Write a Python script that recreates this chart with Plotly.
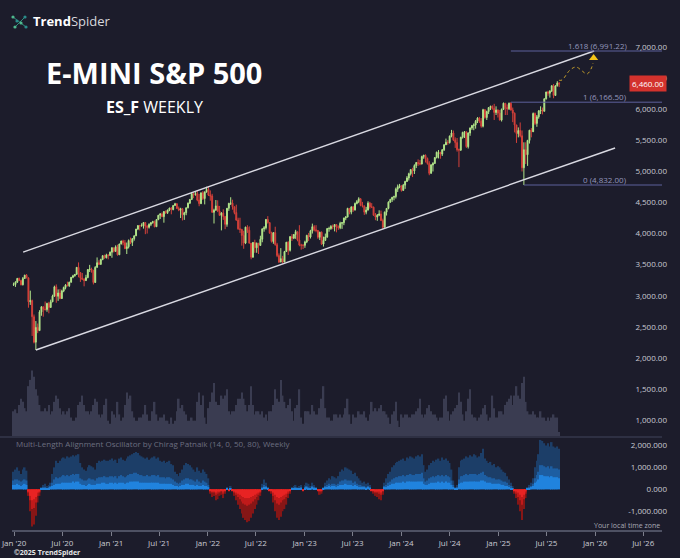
import pandas as pd
import plotly.graph_objects as go

# ES_F weekly bars, one per week starting Mon 2019-12-30 up to Mon 2025-08-18
first_open = 3225

close_2020 = [3230, 3265, 3328, 3292, 3224, 3326, 3380, 3336, 2951, 2969, 2710, 2300, 2538, 2486, 2787, 2869, 2831, 2825,
              2924, 2859, 2950, 3042, 3191, 3039, 3092, 3003, 3125, 3180, 3220, 3210, 3265, 3345, 3368, 3392, 3505, 3422,
              3335, 3313, 3292, 3340, 3470, 3478, 3458, 3262, 3505, 3580, 3553, 3632, 3693, 3660, 3705, 3698, 3750]
high_2020 = [3260, 3282, 3330, 3340, 3305, 3350, 3385, 3397, 3345, 3130, 2985, 2745, 2640, 2600, 2815, 2880, 2875, 2955,
             2935, 2950, 2985, 3065, 3210, 3230, 3150, 3155, 3145, 3195, 3235, 3275, 3275, 3350, 3385, 3398, 3510, 3585,
             3425, 3415, 3330, 3385, 3475, 3545, 3500, 3465, 3525, 3665, 3620, 3645, 3700, 3710, 3725, 3715, 3760]
low_2020 = [3205, 3190, 3255, 3285, 3215, 3214, 3320, 3330, 2855, 2900, 2400, 2280, 2174, 2445, 2480, 2725, 2710, 2810,
            2790, 2765, 2855, 2945, 3030, 2935, 2965, 2990, 2995, 3105, 3150, 3200, 3190, 3260, 3330, 3355, 3390, 3345,
            3270, 3300, 3200, 3285, 3330, 3430, 3420, 3230, 3255, 3500, 3545, 3550, 3620, 3645, 3650, 3635, 3690]

close_2021 = [3820, 3763, 3836, 3708, 3882, 3930, 3903, 3806, 3837, 3937, 3907, 3968, 4013, 4122, 4178, 4174, 4175, 4227,
              4167, 4150, 4198, 4224, 4242, 4160, 4275, 4345, 4365, 4322, 4405, 4388, 4430, 4462, 4436, 4503, 4530, 4453,
              4427, 4450, 4352, 4385, 4465, 4540, 4600, 4692, 4678, 4693, 4590, 4532, 4706, 4614, 4719, 4760]
high_2021 = [3830, 3820, 3860, 3870, 3885, 3935, 3950, 3945, 3905, 3955, 3985, 3975, 4020, 4125, 4185, 4190, 4215, 4235,
             4235, 4185, 4215, 4235, 4255, 4260, 4280, 4350, 4380, 4390, 4410, 4425, 4435, 4465, 4475, 4505, 4545, 4540,
             4485, 4465, 4460, 4400, 4470, 4550, 4605, 4715, 4715, 4720, 4750, 4690, 4710, 4735, 4730, 4805]
low_2021 = [3660, 3745, 3755, 3695, 3705, 3875, 3860, 3805, 3720, 3810, 3880, 3850, 3935, 4010, 4105, 4100, 4165, 4130,
            4040, 4050, 4130, 4170, 4210, 4150, 4160, 4265, 4285, 4315, 4225, 4365, 4365, 4410, 4360, 4425, 4495, 4450,
            4410, 4300, 4260, 4270, 4345, 4455, 4525, 4590, 4620, 4660, 4570, 4490, 4525, 4590, 4520, 4710]

close_2022 = [4671, 4656, 4392, 4426, 4495, 4413, 4343, 4380, 4324, 4199, 4457, 4537, 4540, 4482, 4388, 4267, 4126, 4117,
              4018, 3896, 4153, 4104, 3895, 3670, 3906, 3820, 3894, 3858, 3958, 4125, 4142, 4277, 4226, 4056, 3922, 4065,
              3871, 3695, 3590, 3645, 3590, 3760, 3910, 3780, 4000, 3975, 4035, 4080, 3945, 3865, 3860, 3860]
high_2022 = [4808, 4745, 4690, 4450, 4590, 4585, 4495, 4395, 4440, 4335, 4460, 4545, 4635, 4595, 4475, 4515, 4305, 4305,
             4125, 4095, 4160, 4185, 4165, 3885, 3915, 3950, 3905, 3890, 4015, 4135, 4170, 4285, 4330, 4220, 4080, 4070,
             4160, 3900, 3730, 3815, 3690, 3770, 3915, 3925, 4010, 4040, 4040, 4110, 4080, 4185, 3885, 3880]
low_2022 = [4655, 4580, 4385, 4212, 4420, 4395, 4335, 4101, 4270, 4120, 4160, 4415, 4510, 4435, 4360, 4255, 4110, 4060,
            3855, 3805, 3880, 4060, 3890, 3635, 3660, 3740, 3740, 3720, 3855, 3910, 4080, 4115, 4210, 4050, 3905, 3885,
            3855, 3670, 3575, 3590, 3565, 3590, 3765, 3705, 3760, 3930, 3960, 3965, 3925, 3845, 3790, 3800]

close_2023 = [3915, 4020, 3995, 4095, 4160, 4110, 4100, 3990, 4070, 3880, 3940, 3995, 4130, 4130, 4165, 4160, 4195, 4160,
              4145, 4215, 4225, 4300, 4315, 4455, 4395, 4480, 4430, 4535, 4565, 4610, 4505, 4490, 4395, 4430, 4540, 4480,
              4475, 4345, 4315, 4345, 4365, 4260, 4150, 4395, 4455, 4555, 4600, 4635, 4645, 4765, 4805, 4820]
high_2023 = [3935, 4030, 4060, 4110, 4210, 4185, 4185, 4090, 4080, 4085, 4000, 4050, 4140, 4160, 4185, 4195, 4200, 4195,
             4180, 4240, 4235, 4305, 4330, 4465, 4450, 4485, 4490, 4550, 4590, 4635, 4620, 4560, 4505, 4480, 4570, 4560,
             4540, 4485, 4380, 4365, 4425, 4420, 4290, 4405, 4460, 4570, 4610, 4640, 4660, 4790, 4840, 4850]
low_2023 = [3820, 3895, 3930, 3970, 4050, 4085, 4070, 3965, 3945, 3865, 3840, 3930, 3980, 4080, 4110, 4120, 4085, 4070,
            4110, 4120, 4125, 4185, 4265, 4310, 4360, 4360, 4400, 4420, 4520, 4540, 4490, 4470, 4350, 4360, 4420, 4450,
            4460, 4335, 4265, 4255, 4330, 4250, 4122, 4150, 4340, 4440, 4545, 4560, 4585, 4615, 4720, 4780]

close_2024 = [4745, 4830, 4890, 4945, 5015, 5080, 5060, 5145, 5195, 5180, 5170, 5290, 5310, 5260, 5180, 5020, 5155, 5180,
              5275, 5360, 5360, 5330, 5400, 5480, 5520, 5515, 5620, 5670, 5560, 5515, 5400, 5395, 5600, 5680, 5690, 5450,
              5670, 5750, 5790, 5800, 5860, 5910, 5860, 5780, 6045, 5920, 6015, 6080, 6100, 6065, 6000, 6040]
high_2024 = [4815, 4850, 4900, 4975, 5030, 5085, 5110, 5165, 5200, 5245, 5235, 5305, 5320, 5325, 5275, 5215, 5170, 5200,
             5280, 5370, 5395, 5360, 5410, 5490, 5580, 5555, 5630, 5720, 5710, 5600, 5590, 5420, 5610, 5690, 5700, 5690,
             5680, 5760, 5800, 5825, 5880, 5925, 5930, 5910, 6060, 6055, 6030, 6085, 6110, 6115, 6140, 6100]
low_2024 = [4725, 4740, 4770, 4880, 4905, 4985, 4960, 5010, 5105, 5140, 5150, 5165, 5255, 5195, 5160, 4990, 5015, 5050,
            5170, 5260, 5260, 5255, 5300, 5380, 5490, 5480, 5500, 5600, 5540, 5430, 5370, 5120, 5380, 5580, 5590, 5430,
            5420, 5625, 5720, 5715, 5740, 5830, 5830, 5755, 5760, 5900, 5880, 5975, 6040, 6045, 5880, 5960]

close_2025 = [5990, 5880, 6050, 6150, 6080, 6060, 6150, 6040, 5990, 5800, 5660, 5710, 5625, 5110, 5400, 5320, 5550, 5715,
              5690, 5985, 5825, 5930, 6025, 6040, 6020, 6220, 6330, 6310, 6345, 6430, 6275, 6430, 6475, 6460]
high_2025 = [6050, 6040, 6065, 6160, 6150, 6130, 6160, 6166.5, 6080, 6000, 5800, 5760, 5840, 5710, 5520, 5520, 5560, 5720,
             5750, 6000, 6000, 5960, 6040, 6100, 6080, 6230, 6335, 6350, 6360, 6440, 6460, 6440, 6505, 6490]
low_2025 = [5920, 5870, 5855, 6040, 5960, 5960, 6040, 6030, 5845, 5680, 5510, 5600, 5600, 5050, 4832, 5170, 5140, 5500,
            5600, 5830, 5800, 5770, 5900, 5975, 5970, 6030, 6210, 6270, 6240, 6330, 6230, 6270, 6420, 6410]

# weekly volume (thousands)
vol_2020 = [1150, 1180, 1120, 1250, 1350, 1300, 1200, 1150, 1550, 1650, 1800, 1700, 1500, 1400, 1250, 1150, 1150, 1200,
            1150, 1250, 1100, 1150, 1300, 1400, 1350, 1200, 1100, 1150, 1100, 1150, 1200, 1050, 1000, 1000, 1050, 1250,
            1300, 1400, 1250, 1150, 1150, 1100, 1150, 1250, 1350, 1300, 1100, 1050, 1100, 1250, 1350, 1000, 950]
vol_2021 = [1150, 1100, 1050, 1300, 1100, 1000, 1050, 1250, 1450, 1350, 1400, 1150, 1050, 1000, 1000, 1050, 1050, 1100,
            1250, 1100, 1000, 1000, 1150, 1300, 1100, 1000, 1050, 1050, 1100, 1000, 1000, 950, 1050, 950, 1000, 1150,
            1350, 1200, 1250, 1150, 1100, 1000, 1000, 1050, 1000, 1000, 1300, 1450, 1250, 1400, 1050, 950]
vol_2022 = [1200, 1300, 1450, 1600, 1300, 1250, 1250, 1400, 1350, 1400, 1500, 1150, 1100, 1150, 1150, 1250, 1350, 1350,
            1450, 1350, 1250, 1150, 1250, 1550, 1250, 1100, 1150, 1150, 1100, 1150, 1050, 1100, 1000, 1150, 1150, 1250,
            1500, 1350, 1300, 1650, 1400, 1300, 1200, 1250, 1350, 1150, 1000, 1200, 1250, 1500, 1050, 950]
vol_2023 = [1150, 1150, 1150, 1100, 1250, 1150, 1100, 1100, 1200, 1350, 1550, 1200, 1050, 1050, 1000, 1000, 1100, 1100,
            1050, 1100, 1050, 1100, 1200, 1350, 1100, 950, 1100, 1050, 1050, 1150, 1100, 1100, 1150, 1050, 1000, 1100,
            1300, 1150, 1200, 1150, 1200, 1250, 1150, 1150, 1100, 1050, 950, 1100, 1150, 1300, 1000, 900]
vol_2024 = [1100, 1050, 1100, 1100, 1050, 1050, 1100, 1100, 1150, 1200, 1350, 1100, 1050, 1100, 1200, 1250, 1150, 1100,
            1100, 1050, 1000, 1050, 1050, 1350, 1400, 1150, 1000, 1100, 1150, 1200, 1250, 1450, 1300, 1100, 1000, 1150,
            1350, 1500, 1100, 1050, 1050, 1000, 1050, 1100, 1200, 1250, 1100, 1000, 1050, 1400, 1200, 1050]
vol_2025 = [1050, 1150, 1150, 1100, 1250, 1300, 1350, 1400, 1250, 1400, 1550, 1400, 1350, 1600, 1700, 1300, 1150, 1100,
            1100, 1150, 1100, 1050, 1050, 1150, 1050, 1050, 1000, 1050, 1000, 1050, 1100, 1050, 1050, 820]

# Multi-Length Alignment Oscillator, three stacked lengths (outer / middle / inner)
osc_long_2020 = [800, 900, 1000, 850, 700, 900, 1000, 850, -300, -1000, -1700, -1600, -1200, -600, -300, 100, 200, 250,
                 150, 200, 300, 700, 1000, 1300, 1200, 1300, 1400, 1450, 1400, 1500, 1450, 1500, 1550, 1500, 1550, 1600,
                 1200, 1000, 900, 850, 1000, 1100, 1050, 1000, 900, 1200, 1300, 1250, 1300, 1350, 1300, 1300, 1350]
osc_long_2021 = [1400, 1300, 1350, 1200, 1400, 1450, 1350, 1300, 1400, 1500, 1550, 1600, 1650, 1700, 1650, 1550, 1500,
                 1450, 1400, 1450, 1350, 1400, 1450, 1500, 1400, 1450, 1300, 1250, 1300, 1200, 1250, 1300, 1150, 1100,
                 800, 700, 600, 750, 900, 1100, 1200, 1150, 1100, 1000, 900, 800, 1000, 850, 750, 900, 800, 700]
osc_long_2022 = [500, -200, -350, -300, -500, -450, -300, -250, -400, -200, 100, -100, 150, -100, -300, -500, -700,
                 -900, -1100, -1300, -1400, -1500, -1450, -1300, -1100, -900, -700, -500, -300, 250, 450, 300, 100, -100,
                 -200, -600, -1000, -1300, -1400, -1250, -1000, -900, -700, -400, -200, 100, 150, 200, 100, 150, 200, -100]
osc_long_2023 = [200, 300, 250, 150, 300, 200, 100, -100, -250, -200, 100, 300, 400, 500, 450, 600, 550, 500, 600, 800,
                 900, 850, 1000, 950, 900, 850, 700, 750, 600, 500, 400, 300, 350, 250, 300, 200, -100, -200, -300, -350,
                 -450, -500, -250, 300, 500, 700, 800, 1000, 1100, 1200, 1250, 1300]
osc_long_2024 = [1350, 1400, 1300, 1450, 1400, 1500, 1450, 1400, 1500, 1550, 1500, 1600, 1100, 800, 900, 1100, 1200,
                 1300, 1250, 1350, 1400, 1300, 1450, 1350, 1400, 1300, 1200, 900, 400, 100, 200, 1000, 1300, 1350, 1400,
                 1500, 1450, 1550, 1500, 1600, 1550, 1450, 1500, 1650, 1850, 1400, 1300, 1200, 1250, 1100, 1150, 1000]
osc_long_2025 = [1050, 1000, 900, 800, 750, 600, 450, 300, 150, -200, -400, -700, -1000, -1400, -900, -400, 100, 200,
                 300, 500, 1000, 1300, 1600, 2250, 2200, 2100, 2000, 2100, 1950, 2150, 1950, 1900, 1950, 1850]

osc_mid_2020 = [400, 450, 450, 400, 350, 400, 450, 400, -150, -500, -900, -850, -600, -300, -150, 50, 100, 100, 50, 100,
                150, 300, 450, 550, 500, 550, 600, 650, 600, 650, 600, 650, 700, 650, 700, 700, 500, 450, 400, 400, 450,
                500, 450, 450, 400, 500, 550, 550, 550, 600, 550, 550, 600]
osc_mid_2021 = [600, 550, 600, 500, 600, 650, 600, 550, 600, 650, 700, 700, 750, 750, 700, 650, 650, 600, 600, 650, 600,
                600, 650, 650, 600, 650, 550, 550, 550, 500, 550, 550, 500, 450, 350, 300, 250, 300, 400, 450, 500, 500,
                450, 450, 400, 350, 450, 350, 300, 400, 350, 300]
osc_mid_2022 = [200, -100, -150, -150, -250, -200, -150, -100, -200, -100, 50, -50, 50, -50, -150, -250, -350, -450,
                -550, -650, -700, -750, -700, -650, -550, -450, -350, -250, -150, 100, 200, 150, 50, -50, -100, -300,
                -500, -650, -700, -600, -500, -450, -350, -200, -100, 50, 50, 100, 50, 50, 100, -50]
osc_mid_2023 = [100, 150, 100, 50, 150, 100, 50, -50, -100, -100, 50, 150, 200, 250, 200, 250, 250, 200, 250, 350, 400,
                400, 450, 400, 400, 400, 300, 350, 250, 200, 200, 150, 150, 100, 150, 100, -50, -100, -150, -150, -200,
                -250, -100, 150, 200, 300, 350, 450, 500, 550, 550, 600]
osc_mid_2024 = [600, 650, 600, 650, 650, 700, 650, 650, 700, 700, 700, 750, 500, 350, 400, 500, 550, 600, 550, 600, 650,
                600, 650, 600, 650, 600, 550, 400, 200, 50, 100, 450, 600, 600, 650, 700, 650, 700, 700, 700, 700, 650,
                700, 750, 800, 650, 600, 550, 550, 500, 500, 450]
osc_mid_2025 = [450, 450, 400, 350, 350, 300, 200, 150, 50, -100, -200, -350, -500, -700, -450, -200, 50, 100, 150, 250,
                500, 650, 800, 1100, 1100, 1050, 1000, 1050, 950, 1050, 950, 950, 950, 900]

osc_short_2020 = [200, 200, 250, 200, 150, 200, 250, 200, -100, -300, -500, -450, -350, -150, -100, 50, 50, 50, 50, 50,
                  100, 150, 200, 250, 250, 250, 300, 300, 300, 300, 300, 300, 350, 300, 350, 350, 250, 200, 200, 150,
                  200, 250, 200, 200, 200, 250, 250, 250, 300, 300, 250, 250, 300]
osc_short_2021 = [300, 250, 300, 250, 300, 300, 300, 250, 300, 300, 350, 350, 350, 350, 350, 300, 300, 300, 300, 300,
                  300, 300, 300, 300, 300, 300, 250, 250, 250, 250, 250, 250, 250, 200, 150, 150, 100, 150, 200, 200,
                  250, 250, 200, 200, 200, 150, 200, 150, 150, 200, 150, 150]
osc_short_2022 = [100, -50, -100, -100, -150, -100, -100, -50, -100, -50, 50, -50, 50, -50, -100, -150, -200, -250, -300,
                  -350, -400, -400, -400, -350, -300, -250, -200, -150, -100, 50, 100, 100, 50, -50, -50, -150, -250,
                  -350, -400, -350, -300, -250, -200, -100, -50, 50, 50, 50, 50, 50, 50, -50]
osc_short_2023 = [50, 100, 50, 50, 100, 50, 50, -50, -50, -50, 50, 100, 100, 150, 100, 150, 150, 100, 150, 200, 200, 200,
                  250, 200, 200, 200, 150, 200, 150, 100, 100, 100, 100, 50, 100, 50, -50, -50, -100, -100, -100, -150,
                  -50, 100, 100, 150, 200, 250, 250, 300, 300, 300]
osc_short_2024 = [300, 350, 300, 350, 350, 350, 350, 350, 350, 350, 350, 350, 250, 200, 200, 250, 300, 300, 300, 300,
                  350, 300, 350, 300, 350, 300, 300, 200, 100, 50, 50, 250, 300, 300, 350, 350, 350, 350, 350, 350, 350,
                  350, 350, 400, 400, 350, 300, 300, 300, 250, 250, 250]
osc_short_2025 = [250, 250, 200, 200, 150, 150, 100, 50, 50, -50, -100, -150, -250, -350, -250, -100, 50, 50, 100, 150,
                  300, 350, 450, 650, 650, 600, 600, 600, 550, 600, 550, 550, 550, 500]

close = close_2020 + close_2021 + close_2022 + close_2023 + close_2024 + close_2025
high = high_2020 + high_2021 + high_2022 + high_2023 + high_2024 + high_2025
low = low_2020 + low_2021 + low_2022 + low_2023 + low_2024 + low_2025
volume = vol_2020 + vol_2021 + vol_2022 + vol_2023 + vol_2024 + vol_2025
osc_long = osc_long_2020 + osc_long_2021 + osc_long_2022 + osc_long_2023 + osc_long_2024 + osc_long_2025
osc_mid = osc_mid_2020 + osc_mid_2021 + osc_mid_2022 + osc_mid_2023 + osc_mid_2024 + osc_mid_2025
osc_short = osc_short_2020 + osc_short_2021 + osc_short_2022 + osc_short_2023 + osc_short_2024 + osc_short_2025

for name, arr in [("high", high), ("low", low), ("volume", volume), ("osc_long", osc_long),
                  ("osc_mid", osc_mid), ("osc_short", osc_short)]:
    assert len(arr) == len(close), (name, len(arr), len(close))

weeks = pd.date_range("2019-12-30", periods=len(close), freq="W-MON")
opens = [first_open] + close[:-1]

# drawings
fib_ratio = ["0", "1", "1.618"]
fib_price = [4832.00, 6166.50, 6991.22]
fib_start = ["2025-04-07", "2025-02-17", "2025-02-17"]
channel_upper = (["2020-02-04", "2025-12-28"], [3752, 6991])
channel_lower = (["2020-03-23", "2026-03-17"], [2174, 5428])
path_dates = ["2025-08-29", "2025-09-28", "2025-10-21", "2025-11-13", "2025-12-01", "2025-12-16", "2025-12-24"]
path_prices = [6524, 6685, 6733, 6669, 6620, 6701, 6798]
last_price = 6460.00

x_tick_dates = ["2020-01-01", "2020-07-01", "2021-01-01", "2021-07-01", "2022-01-01", "2022-07-01", "2023-01-01",
                "2023-07-01", "2024-01-01", "2024-07-01", "2025-01-01", "2025-07-01", "2026-01-01", "2026-07-01"]
x_tick_text = ["Jan '20", "Jul '20", "Jan '21", "Jul '21", "Jan '22", "Jul '22", "Jan '23",
               "Jul '23", "Jan '24", "Jul '24", "Jan '25", "Jul '25", "Jan '26", "Jul '26"]
price_ticks = [2000, 2500, 3000, 3500, 4000, 4500, 5000, 5500, 6000, 6500, 7000]
vol_ticks = [1000, 1500]
osc_ticks = [-1000, 0, 1000, 2000]

BG = "#1c1c2b"
TXT = "#c9cad3"
W, H = 680, 558


def px(x):
    return x / W


def py(y):
    return 1 - y / H


fig = go.Figure()

fig.add_trace(go.Bar(x=weeks, y=volume, marker_color="#3a3c51", marker_line_width=0, xaxis="x", yaxis="y2"))

pos_cols = ["#1c3e68", "#1d5ea2", "#2083de"]
neg_cols = ["#861616", "#c01a1a", "#e82323"]
for k, layer in enumerate([osc_long, osc_mid, osc_short]):
    cols = [pos_cols[k] if v >= 0 else neg_cols[k] for v in layer]
    fig.add_trace(go.Bar(x=weeks, y=layer, marker_color=cols, marker_line_width=0, xaxis="x", yaxis="y3"))

fig.add_trace(go.Candlestick(
    x=weeks, open=opens, high=high, low=low, close=close, xaxis="x", yaxis="y",
    increasing=dict(line=dict(color="#b2e58a", width=1), fillcolor="#b2e58a"),
    decreasing=dict(line=dict(color="#d4413a", width=1), fillcolor="#d4413a"),
    whiskerwidth=0))

for xs, ys in [channel_upper, channel_lower]:
    fig.add_trace(go.Scatter(x=xs, y=ys, mode="lines", line=dict(color="#d9d9e2", width=1.4), xaxis="x", yaxis="y"))

for r, p, s in zip(fib_ratio, fib_price, fib_start):
    fig.add_trace(go.Scatter(x=[s, "2026-09-10"], y=[p, p], mode="lines", line=dict(color="#5d609c", width=1),
                             xaxis="x", yaxis="y"))

fig.add_trace(go.Scatter(x=[weeks[-1]] + path_dates, y=[close[-1] + 60] + path_prices, mode="lines",
                         line=dict(color="#c8a12a", width=1, dash="dot", shape="spline"), xaxis="x", yaxis="y"))
fig.add_trace(go.Scatter(x=["2025-12-26"], y=[6880], mode="markers",
                         marker=dict(symbol="triangle-up", size=8, color="#f2c318"), xaxis="x", yaxis="y"))

# value scales sit on the right edge, labels right-aligned just left of it
axis_common = dict(side="left", anchor="free", position=px(667), ticklabelposition="outside", ticks="",
                   showgrid=False, zeroline=False, showline=False, tickfont=dict(size=8, color=TXT),
                   fixedrange=True, automargin=False)

fig.update_layout(
    width=W, height=H, margin=dict(l=0, r=0, t=0, b=0, pad=0),
    paper_bgcolor=BG, plot_bgcolor=BG, showlegend=False,
    font=dict(family="Open Sans", color=TXT),
    barmode="overlay", bargap=0.15,
    xaxis=dict(domain=[px(12), px(662)], range=["2019-12-24", "2026-09-10"], type="date", anchor="y3",
               tickvals=x_tick_dates, ticktext=x_tick_text, ticks="outside", ticklen=4, tickcolor="#7d7f8c",
               tickfont=dict(size=8, color=TXT), showline=True, linecolor="#4e5163", linewidth=2,
               showgrid=False, zeroline=False, rangeslider=dict(visible=False), fixedrange=True,
               automargin=False),
    yaxis=dict(domain=[py(436), 1], range=[788, 7813], tickvals=price_ticks,
               ticktext=[f"{v:,.2f}" for v in price_ticks], ticklabelshift=-3, **axis_common),
    yaxis2=dict(domain=[py(436), py(365)], range=[756, 1887], tickvals=vol_ticks,
                ticktext=[f"{v:,.2f}" for v in vol_ticks], **axis_common),
    yaxis3=dict(domain=[py(530), py(437)], range=[-1854, 2383], tickvals=osc_ticks,
                ticktext=[f"{v:,.3f}" for v in osc_ticks], **axis_common),
)

# pane separator
fig.add_shape(type="line", xref="paper", yref="paper", x0=0, x1=px(662), y0=py(437), y1=py(437),
              line=dict(color="#2e3043", width=2))

# logo mark
icon_dots = [(13, 17), (17, 21), (21, 23), (25, 17), (15, 27), (26, 27)]
fig.add_shape(type="line", xref="paper", yref="paper", x0=px(13), y0=py(17), x1=px(26), y1=py(27),
              line=dict(color="#2f8f7e", width=1))
fig.add_shape(type="line", xref="paper", yref="paper", x0=px(25), y0=py(17), x1=px(15), y1=py(27),
              line=dict(color="#2f8f7e", width=1))
for i, (cx, cy) in enumerate(icon_dots):
    fig.add_shape(type="circle", xref="paper", yref="paper", x0=px(cx - 1.6), x1=px(cx + 1.6),
                  y0=py(cy + 1.6), y1=py(cy - 1.6), line=dict(width=0),
                  fillcolor="#4fb98e" if i % 2 == 0 else "#2a8c8a")

ann = [
    dict(x=px(31), y=py(21), xanchor="left", text="<b>Trend</b><span style='color:#d8d8de'>Spider</span>",
         font=dict(size=13, color="#ffffff")),
    dict(x=px(154), y=py(73), xanchor="center", text="<b>E-MINI S&P 500</b>", font=dict(size=29, color="#ffffff")),
    dict(x=px(154), y=py(107), xanchor="center", text="<b>ES_F</b> WEEKLY", font=dict(size=16, color="#ffffff")),
    dict(x=px(14), y=py(443), xanchor="left",
         text="Multi-Length Alignment Oscillator by Chirag Patnaik (14, 0, 50, 80), Weekly",
         font=dict(size=8, color="#6c6f80")),
    dict(x=px(662), y=py(525.5), xanchor="right", text="Your local time zone", font=dict(size=7, color="#a9aab5")),
    dict(x=px(12), y=py(552), xanchor="left", text="<b>©2025 TrendSpider</b>", font=dict(size=7, color="#e6e6e6")),
]
for a in ann:
    fig.add_annotation(xref="paper", yref="paper", showarrow=False, yanchor="middle", **a)

for r, p in zip(fib_ratio, fib_price):
    fig.add_annotation(xref="paper", yref="y", x=px(629), y=p, xanchor="right", yshift=6, showarrow=False,
                       text=f"{r} ({p:,.2f})", font=dict(size=8, color="#9597bd"))

fig.add_annotation(xref="paper", yref="y", x=px(667), y=last_price, xanchor="right", showarrow=False,
                   text=f"{last_price:,.2f}", font=dict(size=8, color="#ffffff"), bgcolor="#d3322d",
                   borderpad=2)

fig.write_html("out.html", config={"displayModeBar": False},
               post_script="document.body.style.margin='0px';")
